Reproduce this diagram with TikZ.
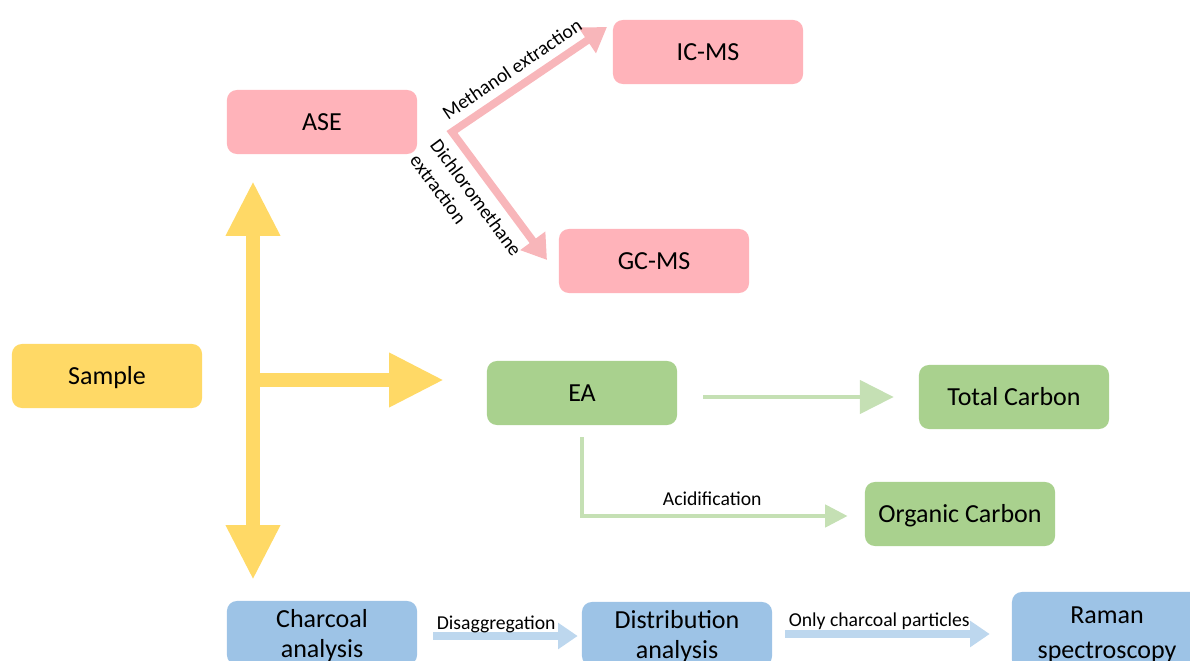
\documentclass[tikz,border=0pt]{standalone}
\usepackage{fontspec}
\setmainfont{Carlito}
\usepackage{xcolor}
\definecolor{sampleyellow}{HTML}{FFD966}
\definecolor{asepink}{HTML}{FFB3BA}
\definecolor{asearrow}{HTML}{F8B6BA}
\definecolor{eagreen}{HTML}{A9D18E}
\definecolor{ealight}{HTML}{C5E0B4}
\definecolor{charblue}{HTML}{9DC3E6}
\definecolor{charlight}{HTML}{BDD7EE}
\usepackage{tikz}
\usetikzlibrary{arrows.meta,positioning,calc}
\newcommand{\boxstrut}{\rule{0pt}{17pt}}

\begin{document}
\begin{tikzpicture}[x=0.025cm, y=-0.025cm, every node/.style={align=center},
    box/.style={rounded corners=7pt, minimum width=4.75cm, minimum height=1.6cm,
      inner sep=0pt, font=\fontsize{18.5}{21.5}\selectfont},
    oneline/.style={box, text height=13pt, text depth=1.1pt},
    lbl/.style={inner sep=0pt, text=black, font=\fontsize{14}{16.5}\selectfont},
    yarrow/.style={sampleyellow, line width=10.5pt,
      -{Triangle[length=39pt,width=36pt]}},
    parrow/.style={asearrow, line width=5.5pt, line join=miter,
      {Triangle[length=17pt,width=21pt]}-{Triangle[length=17pt,width=21pt]}},
    garrow/.style={ealight, line width=3pt,
      -{Triangle[length=24pt,width=23.5pt]}},
    gsmall/.style={ealight, line width=3.5pt,
      -{Triangle[length=16pt,width=15.5pt]}},
    barrow/.style={charlight, line width=5pt,
      -{Triangle[length=14pt,width=18pt]}}]
  \useasboundingbox (0,0) rectangle (1190,661);
  \clip (0,0) rectangle (1190,661);

  % boxes
  \node[oneline, fill=sampleyellow] (sample) at (107,376) {Sample};
  \node[oneline, fill=asepink] (ase)  at (322,122) {ASE};
  \node[oneline, fill=asepink] (icms) at (708,52)  {IC-MS};
  \node[oneline, fill=asepink] (gcms) at (654,261) {GC-MS};
  \node[oneline, fill=eagreen] (ea) at (582,393)  {EA};
  \node[oneline, fill=eagreen] (tc) at (1014,397) {Total Carbon};
  \node[oneline, fill=eagreen] (oc) at (960,514)  {Organic Carbon};
  \node[box, fill=charblue] (char) at (322,633)  {\boxstrut Charcoal\\analysis};
  \node[box, fill=charblue] (dist) at (677,634)  {\boxstrut Distribution\\analysis};
  \node[box, fill=charblue, minimum height=1.95cm,
    font=\fontsize{18.5}{25}\selectfont] (raman) at (1107,631)
    {\boxstrut Raman\\spectroscopy};

  % yellow split
  \coordinate (ytop) at (253,181);
  \coordinate (ybot) at (253,580);
  \coordinate (yfork) at (253,380);
  \coordinate (yright) at (444,380);
  \draw[yarrow, {Triangle[length=39pt,width=36pt]}-{Triangle[length=39pt,width=36pt]}]
    (ytop) -- (ybot);
  \draw[yarrow] (yfork) -- (yright);

  % ASE extractions
  \coordinate (pfork) at (452,132);
  \coordinate (ictip) at (607,27);
  \coordinate (gctip) at (547,260);
  \draw[parrow] (ictip) -- (pfork) -- (gctip);
  \node[lbl, rotate=34] (meth) at (512,69) {Methanol extraction};
  \node[lbl, rotate=-53.5, align=left, font=\fontsize{14}{18}\selectfont]
    (dcm) at (466,205) {Dichloromethane\\extraction};

  % EA
  \draw[garrow] ($(ea.east)+(26,4)$) -- ($(tc.west)+(-25,0)$);
  \draw[gsmall] ($(ea.south)+(0,12)$) |- ($(oc.west)+(-17,2)$)
    node[lbl, pos=0.745, above=5.5pt] (acid) {Acidification};

  % charcoal
  \draw[barrow] ($(char.east)+(16,3)$) -- ($(dist.west)+(-4,2)$)
    node[lbl, pos=0, anchor=south west, yshift=-0.5pt] (disag) {Disaggregation};
  \draw[barrow] ($(dist.east)+(13,0)$) -- ($(raman.west)+(-22,3)$)
    node[lbl, pos=0, anchor=south west, yshift=0.5pt] (only) {Only charcoal particles};
\end{tikzpicture}
\end{document}
